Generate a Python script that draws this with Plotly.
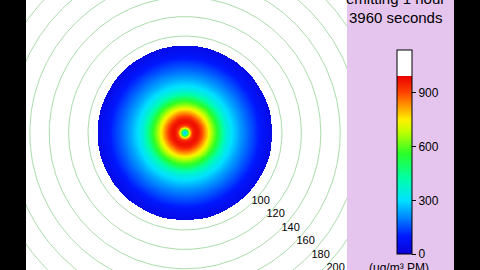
import numpy as np
import plotly.graph_objects as go

# ---- data ----
ring_radii = [100, 120, 140, 160, 180, 200, 220]          # green distance rings
ring_labels = [100, 120, 140, 160, 180, 200]              # labelled rings
disk_radius = 90                                           # extent of concentration field
profile_r = [0, 1.5, 3, 4.6, 6.2, 8.2, 11.3, 14.4, 17.5, 20.6, 24.7, 28.9, 33, 38, 43, 48.5, 56.7, 64, 72, 80, 90]
profile_v = [240, 330, 520, 720, 860, 940, 975, 960, 900, 830, 740, 640, 560, 450, 360, 300, 230, 180, 130, 80, 40]
cbar_ticks = [0, 300, 600, 900]
title_top = "emitting 1 hour"
title_time = "3960 seconds"
units_label = "(ug/m³ PM)"

CMAX = 1140
def f(v):
    return v / CMAX
colorscale = [
    [f(0), "rgb(10,0,215)"],
    [f(100), "rgb(0,25,255)"],
    [f(200), "rgb(0,130,255)"],
    [f(300), "rgb(0,225,255)"],
    [f(420), "rgb(0,255,170)"],
    [f(560), "rgb(40,255,40)"],
    [f(680), "rgb(190,255,0)"],
    [f(750), "rgb(255,240,0)"],
    [f(830), "rgb(255,150,0)"],
    [f(900), "rgb(255,70,0)"],
    [f(994), "rgb(235,0,0)"],
    [f(995), "rgb(255,255,255)"],
    [1.0, "rgb(255,255,255)"],
]

# ---- build field from the radial profile ----
step = 0.5
g = np.arange(-disk_radius, disk_radius + step, step)
X, Y = np.meshgrid(g, g)
R = np.hypot(X, Y)
Z = np.interp(R, profile_r, profile_v).round(0)
Z = np.where(R <= disk_radius, Z, np.nan)
Zl = [[None if np.isnan(v) else int(v) for v in row] for row in Z]

# ---- rings ----
t = np.linspace(0, 2 * np.pi, 400)
cx, cy = [], []
for r in ring_radii:
    cx += list(r * np.cos(t)) + [None]
    cy += list(r * np.sin(t)) + [None]

ang = np.deg2rad(-42)
lab_r = [v * 1.04 + 1 for v in ring_labels]
lx = [r * np.cos(ang) for r in lab_r]
ly = [r * np.sin(ang) for r in lab_r]

fig = go.Figure()
fig.add_trace(go.Scatter(x=cx, y=cy, mode="lines", line=dict(color="rgb(170,220,170)", width=1),
                         hoverinfo="skip", showlegend=False))
fig.add_trace(go.Heatmap(x=g, y=g, z=Zl, zmin=0, zmax=CMAX, colorscale=colorscale,
                         showscale=True, hoverinfo="skip",
                         colorbar=dict(x=397 / 480, xanchor="left", xpad=0, ypad=0,
                                       y=16 / 270, yanchor="bottom", len=204 / 270, lenmode="fraction",
                                       thickness=15, outlinecolor="black", outlinewidth=1,
                                       tickvals=cbar_ticks, ticks="outside", ticklen=4,
                                       tickcolor="black", tickfont=dict(family="Liberation Sans", size=12, color="black"),
                                       bgcolor="rgba(0,0,0,0)", borderwidth=0)))
fig.add_trace(go.Scatter(x=lx, y=ly, mode="text", text=[str(v) for v in ring_labels],
                         textfont=dict(family="Liberation Sans", size=11, color="black"),
                         hoverinfo="skip", showlegend=False))

fig.add_shape(type="rect", xref="paper", yref="paper", x0=347 / 480, x1=454 / 480, y0=0, y1=1,
              fillcolor="rgb(229,197,238)", line=dict(width=0), layer="below")

fig.add_annotation(x=395 / 480, y=1 + 2 / 270, xref="paper", yref="paper", text=title_top, showarrow=False,
                   xanchor="center", yanchor="middle", font=dict(family="Liberation Sans", size=15, color="black"))
fig.add_annotation(x=395 / 480, y=1 - 17 / 270, xref="paper", yref="paper", text=title_time, showarrow=False,
                   xanchor="center", yanchor="middle", font=dict(family="Liberation Sans", size=15, color="black"))
fig.add_annotation(x=399 / 480, y=1 - 268 / 270, xref="paper", yref="paper", text=units_label, showarrow=False,
                   xanchor="center", yanchor="middle", font=dict(family="Liberation Sans", size=12, color="black"))

s = 0.97
fig.update_xaxes(domain=[26 / 480, 347 / 480], range=[-159 / s, 162 / s], visible=False, fixedrange=True)
fig.update_yaxes(domain=[0, 1], range=[-137 / s, 133 / s], visible=False, fixedrange=True)
fig.update_layout(width=480, height=270, margin=dict(l=0, r=0, t=0, b=0),
                  paper_bgcolor="black", plot_bgcolor="white", showlegend=False)
fig.write_html("out.html")
